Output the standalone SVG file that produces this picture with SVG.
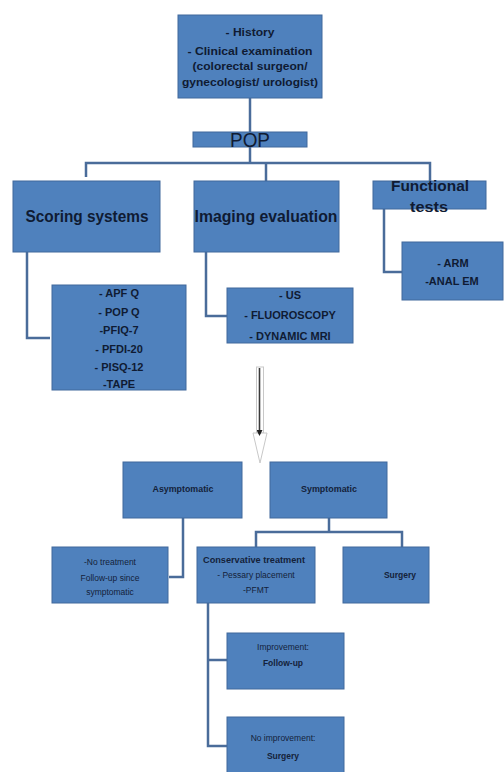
<svg xmlns="http://www.w3.org/2000/svg" width="504" height="772" viewBox="0 0 504 772">
<defs>
<style>
.box{fill:#4f81bd;stroke:#41699c;stroke-width:1}
.ln{fill:none;stroke:#4a6c9a;stroke-width:2.5}
.t{font-family:"Liberation Sans",Arial,sans-serif;font-weight:bold;fill:#0f1b33;text-anchor:middle}
.s{font-family:"Liberation Sans",Arial,sans-serif;fill:#14213a;text-anchor:middle;font-size:8.5px}
.sb{font-family:"Liberation Sans",Arial,sans-serif;font-weight:bold;fill:#14213a;text-anchor:middle;font-size:8.5px}
</style>
<marker id="ah" markerWidth="6" markerHeight="6" refX="4" refY="3" orient="auto" markerUnits="userSpaceOnUse">
<path d="M0,0 L6,3 L0,6 z" fill="#222"/>
</marker>
</defs>
<rect width="504" height="772" fill="#ffffff"/>
<g id="connectors">
<path class="ln" d="M250,98 V132"/>
<path class="ln" d="M250,147 V163"/>
<path class="ln" d="M86,177 V163 H430 V181"/>
<path class="ln" d="M266,163 V181"/>
<path class="ln" d="M27,252 V338 H50"/>
<path class="ln" d="M206,252 V316 H227"/>
<path class="ln" d="M384,209 V272 H402"/>
<path class="ln" d="M183,518 V577 H169"/>
<path class="ln" d="M329,518 V532 M256,547 V532 H402 V547"/>
<path class="ln" d="M208,603 V746 H227 M208,660 H227"/>
<g id="big-arrow">
<rect x="256.5" y="367" width="7" height="66" fill="#ffffff" stroke="#c8c8c8" stroke-width="1"/>
<path d="M253,433 L267,433 L260,463 z" fill="#ffffff" stroke="#c8c8c8" stroke-width="1"/>
<line x1="259.5" y1="368" x2="259.5" y2="434" stroke="#3a3a3a" stroke-width="1.6" marker-end="url(#ah)"/>
</g>
</g>
<g id="n-top">
<rect class="box" x="178" y="15" width="144" height="83"/>
<text class="t" x="250" y="36" font-size="11.5" textLength="49" lengthAdjust="spacingAndGlyphs">- History</text>
<text class="t" x="250" y="55" font-size="11.5" textLength="125" lengthAdjust="spacingAndGlyphs">- Clinical examination</text>
<text class="t" x="250" y="70" font-size="11.5" textLength="115" lengthAdjust="spacingAndGlyphs">(colorectal surgeon/</text>
<text class="t" x="250" y="86" font-size="11.5" textLength="136" lengthAdjust="spacingAndGlyphs">gynecologist/ urologist)</text>
</g>
<g id="n-pop">
<rect class="box" x="193" y="132" width="114" height="15"/>
<text x="250" y="147" font-family="Liberation Sans,Arial,sans-serif" font-size="21" fill="#0f1b33" text-anchor="middle" textLength="40" lengthAdjust="spacingAndGlyphs">POP</text>
</g>
<g id="n-scoring">
<rect class="box" x="13" y="181" width="147" height="71"/>
<text class="t" x="87" y="222" font-size="16" textLength="123" lengthAdjust="spacingAndGlyphs">Scoring  systems</text>
</g>
<g id="n-imaging">
<rect class="box" x="194" y="181" width="145" height="71"/>
<text class="t" x="266" y="222" font-size="16" textLength="143" lengthAdjust="spacingAndGlyphs">Imaging evaluation</text>
</g>
<g id="n-functional">
<rect class="box" x="373" y="181" width="113" height="28"/>
<text class="t" x="430" y="191" font-size="15" textLength="78" lengthAdjust="spacingAndGlyphs">Functional</text>
<text class="t" x="429" y="212" font-size="15" textLength="38" lengthAdjust="spacingAndGlyphs">tests</text>
</g>
<g id="n-scores">
<rect class="box" x="52" y="285" width="134" height="105"/>
<text class="t" x="119" y="297" font-size="11">- APF Q</text>
<text class="t" x="119" y="316" font-size="11">- POP Q</text>
<text class="t" x="119" y="334" font-size="11">-PFIQ-7</text>
<text class="t" x="119" y="353" font-size="11">- PFDI-20</text>
<text class="t" x="119" y="371" font-size="11">- PISQ-12</text>
<text class="t" x="119" y="388" font-size="11">-TAPE</text>
</g>
<g id="n-imaging-list">
<rect class="box" x="227" y="288" width="126" height="55"/>
<text class="t" x="290" y="299" font-size="11">- US</text>
<text class="t" x="290" y="319" font-size="11">- FLUOROSCOPY</text>
<text class="t" x="290" y="340" font-size="11">- DYNAMIC MRI</text>
</g>
<g id="n-arm">
<rect class="box" x="402" y="242" width="101" height="58"/>
<text class="t" x="453" y="267" font-size="11">- ARM</text>
<text class="t" x="452" y="285" font-size="11">-ANAL EM</text>
</g>
<g id="n-asym">
<rect class="box" x="123" y="462" width="119" height="56"/>
<text class="sb" x="183" y="492" textLength="61" lengthAdjust="spacingAndGlyphs">Asymptomatic</text>
</g>
<g id="n-sym">
<rect class="box" x="270" y="462" width="117" height="56"/>
<text class="sb" x="329" y="492" textLength="56" lengthAdjust="spacingAndGlyphs">Symptomatic</text>
</g>
<g id="n-notreat">
<rect class="box" x="52" y="547" width="116" height="56"/>
<text class="s" x="110" y="565">-No treatment</text>
<text class="s" x="110" y="581">Follow-up  since</text>
<text class="s" x="110" y="595">symptomatic</text>
</g>
<g id="n-conservative">
<rect class="box" x="197" y="547" width="118" height="56"/>
<text class="sb" x="254" y="563" textLength="102" lengthAdjust="spacingAndGlyphs">Conservative  treatment</text>
<text class="s" x="256" y="578">- Pessary placement</text>
<text class="s" x="256" y="593">-PFMT</text>
</g>
<g id="n-surgery">
<rect class="box" x="343" y="547" width="86" height="56"/>
<text class="sb" x="400" y="578">Surgery</text>
</g>
<g id="n-improve">
<rect class="box" x="227" y="633" width="117" height="56"/>
<text class="s" x="283" y="650">Improvement:</text>
<text class="sb" x="283" y="666">Follow-up</text>
</g>
<g id="n-noimprove">
<rect class="box" x="227" y="717" width="117" height="56"/>
<text class="s" x="283" y="741">No improvement:</text>
<text class="sb" x="283" y="759">Surgery</text>
</g>
</svg>
